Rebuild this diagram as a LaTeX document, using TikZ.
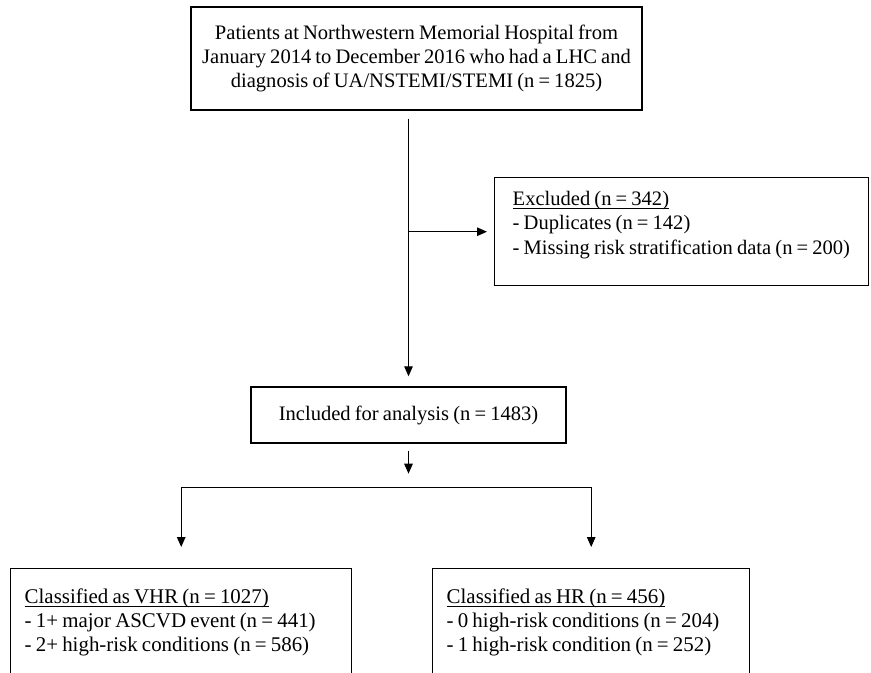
\documentclass[tikz,border=0pt]{standalone}
\usepackage{fontspec}
\setmainfont{Liberation Serif}[WordSpace=0.8]
\usetikzlibrary{arrows.meta,positioning,calc}
\newcommand{\boxhead}[1]{\underline{\smash{#1}}}

\begin{document}
\begin{tikzpicture}[
    flowbox/.style={rectangle, draw=black, line width=0.8pt,
        font=\fontsize{11.7}{13.8}\selectfont, inner sep=0pt},
    listbox/.style={flowbox, anchor=north west, align=flush left,
        inner xsep=0.28cm, inner ysep=0.14cm},
    groupbox/.style={listbox, font=\fontsize{11.9}{13.6}\selectfont,
        text height=0.56cm, text depth=2.5cm},
    arr/.style={-{Triangle[length=2mm,width=1.7mm]}, line width=0.7pt}
]
    \useasboundingbox (0,0) rectangle (17.42,-13.44);

    \node[flowbox, minimum width=9.02cm, minimum height=2.06cm,
        align=center] (pop) at (8.33,-1.17)
        {Patients at Northwestern Memorial Hospital from\\
         January 2014 to December 2016 who had a LHC and\\
         diagnosis of UA/NSTEMI/STEMI (n = 1825)};
    \node[flowbox, minimum width=6.3cm, minimum height=1.12cm] (incl) at (8.17,-8.3)
        {Included for analysis (n = 1483)};
    \node[listbox, inner xsep=0.36cm, text width=6.76cm,
        text height=0.42cm, text depth=1.46cm] (excl) at (9.88,-3.54)
        {\boxhead{Excluded (n = 342)}\\
         - Duplicates (n = 142)\\
         - Missing risk stratification data (n = 200)};
    \node[groupbox, text width=6.26cm] (vhr) at (0.2,-11.36)
        {\boxhead{Classified as VHR (n = 1027)}\\
         - 1+ major ASCVD event (n = 441)\\
         - 2+ high-risk conditions (n = 586)};
    \node[groupbox, text width=5.78cm] (hr) at (8.64,-11.36)
        {\boxhead{Classified as HR (n = 456)}\\
         - 0 high-risk conditions (n = 204)\\
         - 1 high-risk condition (n = 252)};

    \coordinate (branch) at (incl.north |- excl.west);
    \coordinate (fork) at ($(incl.south)+(0,-0.88)$);

    \draw[arr, shorten <=0.16cm, shorten >=0.2cm] (pop.south -| incl.north) -- (incl.north);
    \draw[arr, shorten >=0.14cm] (branch) -- (excl.west);
    \draw[arr, shorten <=0.14cm, shorten >=0.28cm] (incl.south) -- (fork);
    \draw[arr, shorten >=0.42cm] (fork) -| (vhr.north);
    \draw[arr, shorten >=0.42cm] (fork) -| (hr.north);
\end{tikzpicture}
\end{document}
